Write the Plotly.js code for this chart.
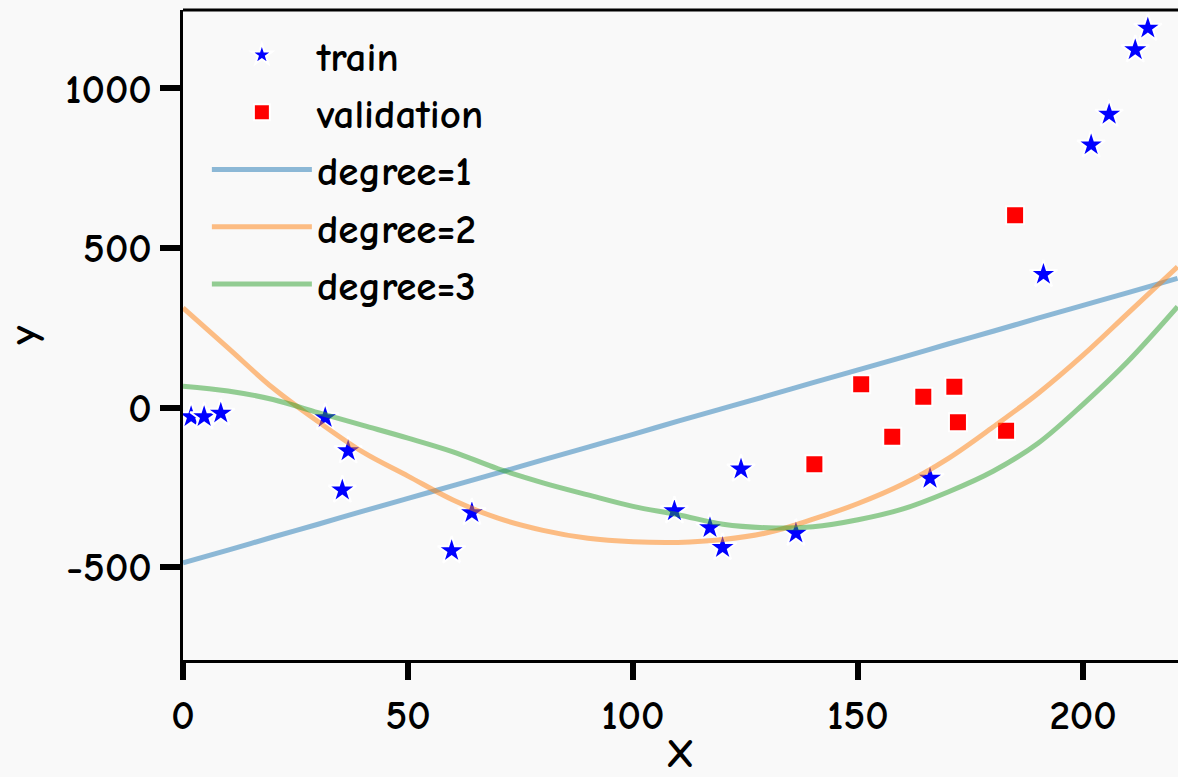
<!DOCTYPE html>
<html>
<head>
<meta charset="utf-8">
<script src="https://cdn.plot.ly/plotly-3.0.1.min.js"></script>
<style>html,body{margin:0;padding:0;background:#f9f9f9;}#chart{width:1178px;height:777px;}</style>
</head>
<body>
<div id="chart"></div>
<script>
// training points
const trainX = [1.8, 4.7, 8.4, 31.6, 36.7, 35.4, 59.7, 64.2, 109.2, 117.1, 119.9, 124.0, 136.2, 166.0, 191.2, 201.8, 205.8, 211.6, 214.4];
const trainY = [-29, -29, -18, -32, -136, -259, -449, -330, -324, -377, -439, -193, -394, -222, 417, 823, 919, 1121, 1189];
// validation points
const valX = [140.3, 150.7, 157.6, 164.5, 171.4, 172.2, 182.9, 184.9];
const valY = [-178, 73, -92, 34, 65, -46, -73, 603];
// fitted curves
const fitX = [0, 10, 20, 30, 40, 50, 60, 70, 80, 90, 100, 110, 120, 130, 140, 150, 160, 170, 180, 190, 200, 210, 221];
const deg1Y = [-487, -447, -406, -366, -325, -285, -245, -205, -164, -124, -84, -43, -3, 37, 78, 118, 158, 199, 239, 280, 320, 360, 405];
const deg2Y = [312, 187, 61, -44, -140, -215, -290, -347, -385, -410, -421, -423, -414, -392, -350, -301, -240, -160, -61, 44, 164, 296, 441];
const deg3Y = [67, 52, 25, -16, -56, -96, -139, -192, -236, -274, -310, -336, -366, -377, -374, -352, -318, -265, -200, -112, 10, 145, 316];
// ticks
const xTicks = [0, 50, 100, 150, 200];
const xTickText = ['0', '50', '100', '150', '200'];
const yTicks = [-500, 0, 500, 1000];
const yTickText = ['-500', '0', '500', '1000'];

const FONT = '"Comic Neue", "Comic Sans MS", "Open Sans", sans-serif';
const F = {family: FONT, size: 41, weight: 'bold', color: '#000'};

const traces = [
  {x: trainX, y: trainY, mode: 'markers', type: 'scatter', name: 'train', legendgroup: 'a',
   marker: {symbol: 'star', size: 21, color: '#0000ff', line: {color: '#ffffff', width: 2}}},
  {x: valX, y: valY, mode: 'markers', type: 'scatter', name: 'validation', legendgroup: 'b',
   marker: {symbol: 'square', size: 18, color: '#ff0000', line: {color: '#ffffff', width: 2}}},
  {x: fitX, y: deg1Y, mode: 'lines', type: 'scatter', name: 'degree=1', legendgroup: 'c',
   line: {color: 'rgba(31,119,180,0.5)', width: 5, shape: 'spline'}},
  {x: fitX, y: deg2Y, mode: 'lines', type: 'scatter', name: 'degree=2', legendgroup: 'd',
   line: {color: 'rgba(255,127,14,0.5)', width: 5, shape: 'spline'}},
  {x: fitX, y: deg3Y, mode: 'lines', type: 'scatter', name: 'degree=3', legendgroup: 'e',
   line: {color: 'rgba(44,160,44,0.5)', width: 5, shape: 'spline'}}
];

const layout = {
  width: 1178, height: 777,
  paper_bgcolor: '#f9f9f9', plot_bgcolor: '#f9f9f9',
  margin: {l: 183, r: 0, t: 10, b: 117},
  font: F,
  showlegend: true,
  legend: {x: 0.024, y: 0.982, xanchor: 'left', yanchor: 'top', bgcolor: 'rgba(0,0,0,0)',
           borderwidth: 0, font: F, itemwidth: 100, tracegroupgap: 1},
  xaxis: {range: [0, 221.1], tickvals: xTicks, ticktext: xTickText, showgrid: false, zeroline: false,
          showline: true, linecolor: '#000', linewidth: 3, ticks: 'outside', ticklen: 17, tickwidth: 6,
          tickcolor: '#000', tickfont: F,
          title: {text: 'X', font: F, standoff: 6}},
  yaxis: {range: [-791.5, 1246], tickvals: yTicks, ticktext: yTickText, showgrid: false, zeroline: false,
          showline: true, linecolor: '#000', linewidth: 3, ticks: 'outside', ticklen: 20, tickwidth: 6,
          tickcolor: '#000', tickfont: F,
          title: {text: 'y', font: F, standoff: 22}},
  shapes: [
    {type: 'line', xref: 'paper', yref: 'paper', x0: 0, x1: 1, y0: 1, y1: 1, line: {color: '#000', width: 3}}
  ]
};

Plotly.newPlot('chart', traces, layout, {displayModeBar: false, staticPlot: true});
</script>
</body>
</html>
